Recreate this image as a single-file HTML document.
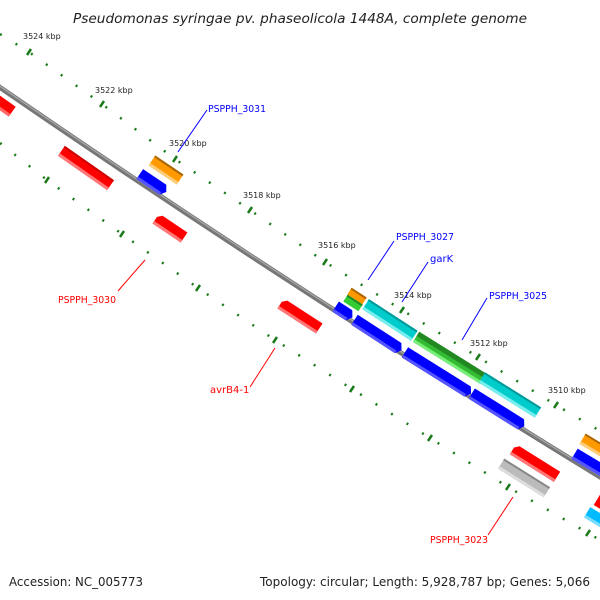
<!DOCTYPE html>
<html><head><meta charset="utf-8"><style>
html,body{margin:0;padding:0;background:#fff;}
svg{display:block;font-family:"DejaVu Sans","Liberation Sans",sans-serif;}
</style></head><body>
<svg width="600" height="600" viewBox="0 0 600 600">
<text x="73" y="23" font-size="13" font-style="italic" fill="#222" textLength="454" lengthAdjust="spacingAndGlyphs">Pseudomonas syringae pv. phaseolicola 1448A, complete genome</text>
<!-- tick rows -->
<polyline points="0,34 29,52 102,104 175,159 250,210 325,262 402,310 478,357 556,405 600,431" fill="none" stroke="#1a7a1a" stroke-width="2.5" stroke-dasharray="2 16.3"/>
<polyline points="0,143 47,180 122,234 198,288 275,340 352,389 430,438 508,487 588,533 600,540" fill="none" stroke="#1a7a1a" stroke-width="2.5" stroke-dasharray="2 16.3"/>
<g stroke="#1a7a1a" stroke-width="2.5">
<line x1="27" y1="55" x2="31" y2="49"/><line x1="100" y1="107" x2="104" y2="101"/><line x1="173" y1="162" x2="177" y2="156"/><line x1="248" y1="213" x2="252" y2="207"/><line x1="323" y1="265" x2="327" y2="259"/><line x1="400" y1="313" x2="404" y2="307"/><line x1="476" y1="360" x2="480" y2="354"/><line x1="554" y1="408" x2="558" y2="402"/>
<line x1="45" y1="183" x2="49" y2="177"/><line x1="120" y1="237" x2="124" y2="231"/><line x1="196" y1="291" x2="200" y2="285"/><line x1="273" y1="343" x2="277" y2="337"/><line x1="350" y1="392" x2="354" y2="386"/><line x1="428" y1="441" x2="432" y2="435"/><line x1="506" y1="490" x2="510" y2="484"/><line x1="586" y1="536" x2="590" y2="530"/>
</g>
<g font-size="8" fill="#222">
<text x="23" y="39">3524 kbp</text><text x="95" y="93">3522 kbp</text><text x="169" y="146">3520 kbp</text><text x="243" y="198">3518 kbp</text><text x="318" y="248">3516 kbp</text><text x="394" y="298">3514 kbp</text><text x="470" y="346">3512 kbp</text><text x="548" y="393">3510 kbp</text>
</g>
<!-- axis -->
<path d="M-5,84 Q300,294 605,480" fill="none" stroke="#777" stroke-width="5"/>
<path d="M-5,84 Q300,294 605,480" fill="none" stroke="#aaa" stroke-width="1.2" transform="translate(0,-1.2)"/>
<g>
<g transform="translate(0,103) rotate(35)"><rect x="-15" y="-6" width="30" height="12" fill="#f00"/><rect x="-15" y="3" width="30" height="3" fill="#f66"/></g>
<g transform="translate(86,168) rotate(35)"><rect x="-30" y="-6" width="60" height="12" fill="#f00"/><rect x="-30" y="3" width="60" height="3" fill="#f77"/><rect x="-30" y="-6" width="60" height="2" fill="#c00"/></g>
<g transform="translate(166,170) rotate(34)"><rect x="-17" y="-6" width="34" height="12" fill="#f90"/><rect x="-17" y="3" width="34" height="3" fill="#fc7"/><rect x="-17" y="-6" width="34" height="2" fill="#a60"/></g>
<g transform="translate(153,183) rotate(34)"><polygon points="-16,-6 12,-6 16,0 12,6 -16,6" fill="#00f"/><rect x="-16" y="3" width="28" height="3" fill="#55f"/></g>
<g transform="translate(170,228) rotate(34)"><polygon points="-13,-6 17,-6 17,6 -17,6 -17,-2" fill="#f00"/><rect x="-17" y="3" width="34" height="3" fill="#f77"/></g>
<g transform="translate(300,316) rotate(33)"><polygon points="-19,-6 23,-6 23,6 -23,6 -23,-2" fill="#f00"/><rect x="-23" y="3" width="46" height="3" fill="#f77"/></g>
<g transform="translate(357,296) rotate(33)"><rect x="-9" y="-4" width="18" height="8" fill="#f90"/><rect x="-9" y="-4" width="18" height="2" fill="#a60"/></g>
<g transform="translate(353,303) rotate(33)"><rect x="-9" y="-4" width="18" height="8" fill="#3c3"/><rect x="-9" y="-4" width="18" height="2" fill="#282"/></g>
<g transform="translate(344,312) rotate(33)"><polygon points="-10,-6 6,-6 10,0 6,6 -10,6" fill="#00f"/><rect x="-10" y="3" width="16" height="3" fill="#55f"/></g>
<g transform="translate(390,320) rotate(33)"><rect x="-29" y="-6" width="58" height="12" fill="#0cc"/><rect x="-29" y="3" width="58" height="3" fill="#7ee"/><rect x="-29" y="-6" width="58" height="2" fill="#099"/></g>
<g transform="translate(378,335) rotate(33)"><polygon points="-28,-6 24,-6 28,0 24,6 -28,6" fill="#00f"/><rect x="-28" y="3" width="52" height="3" fill="#55f"/></g>
<g transform="translate(450,358) rotate(32)"><rect x="-40" y="-6" width="80" height="12" fill="#3b3"/><rect x="-40" y="-6" width="80" height="5" fill="#282"/><rect x="-40" y="3" width="80" height="3" fill="#7e7"/></g>
<g transform="translate(438,373) rotate(32)"><polygon points="-39,-6 35,-6 39,0 35,6 -39,6" fill="#00f"/><rect x="-39" y="3" width="74" height="3" fill="#55f"/></g>
<g transform="translate(510,395) rotate(32)"><rect x="-33" y="-6" width="66" height="12" fill="#0cc"/><rect x="-33" y="3" width="66" height="3" fill="#7ee"/><rect x="-33" y="-6" width="66" height="2" fill="#099"/></g>
<g transform="translate(498,410) rotate(32)"><polygon points="-31,-6 27,-6 31,0 27,6 -31,6" fill="#00f"/><rect x="-31" y="3" width="58" height="3" fill="#55f"/></g>
<g transform="translate(598,448) rotate(31)"><rect x="-18" y="-6" width="36" height="12" fill="#f90"/><rect x="-18" y="3" width="36" height="3" fill="#fc7"/><rect x="-18" y="-6" width="36" height="2" fill="#a60"/></g>
<g transform="translate(590,463) rotate(31)"><rect x="-18" y="-6" width="36" height="12" fill="#00f"/><rect x="-18" y="3" width="36" height="3" fill="#55f"/></g>
<g transform="translate(535,463) rotate(32)"><polygon points="-22,-6 26,-6 26,6 -26,6 -26,-2" fill="#f00"/><rect x="-26" y="3" width="52" height="3" fill="#f77"/></g>
<g transform="translate(524,478) rotate(32)"><rect x="-27" y="-6" width="54" height="12" fill="#bbb"/><rect x="-27" y="-6" width="54" height="2" fill="#888"/><rect x="-27" y="3" width="54" height="3" fill="#ddd"/></g>
<g transform="translate(602,503) rotate(31)"><rect x="-6" y="-6" width="12" height="12" fill="#f00"/></g>
<g transform="translate(600,520) rotate(31)"><rect x="-15" y="-6" width="30" height="12" fill="#0bf"/><rect x="-15" y="3" width="30" height="3" fill="#7df"/></g>
</g>
<g stroke="#00f" stroke-width="1"><line x1="207" y1="110" x2="178" y2="152"/><line x1="394" y1="241" x2="368" y2="280"/><line x1="428" y1="262" x2="402" y2="302"/><line x1="487" y1="298" x2="462" y2="340"/></g>
<g stroke="#f00" stroke-width="1"><line x1="145" y1="260" x2="118" y2="291"/><line x1="275" y1="348" x2="250" y2="387"/><line x1="513" y1="497" x2="488" y2="535"/></g>
<g font-size="10" fill="#00f"><text x="208" y="112" textLength="58" lengthAdjust="spacingAndGlyphs">PSPPH_3031</text><text x="396" y="240" textLength="58" lengthAdjust="spacingAndGlyphs">PSPPH_3027</text><text x="430" y="262">garK</text><text x="489" y="299" textLength="58" lengthAdjust="spacingAndGlyphs">PSPPH_3025</text></g>
<g font-size="10" fill="#f00"><text x="58" y="303" textLength="58" lengthAdjust="spacingAndGlyphs">PSPPH_3030</text><text x="210" y="393">avrB4-1</text><text x="430" y="543" textLength="58" lengthAdjust="spacingAndGlyphs">PSPPH_3023</text></g>
<text x="9" y="586" font-size="12" fill="#222" textLength="134" lengthAdjust="spacingAndGlyphs">Accession: NC_005773</text>
<text x="260" y="586" font-size="12" fill="#222" textLength="330" lengthAdjust="spacingAndGlyphs">Topology: circular; Length: 5,928,787 bp; Genes: 5,066</text>
</svg>
</body></html>
